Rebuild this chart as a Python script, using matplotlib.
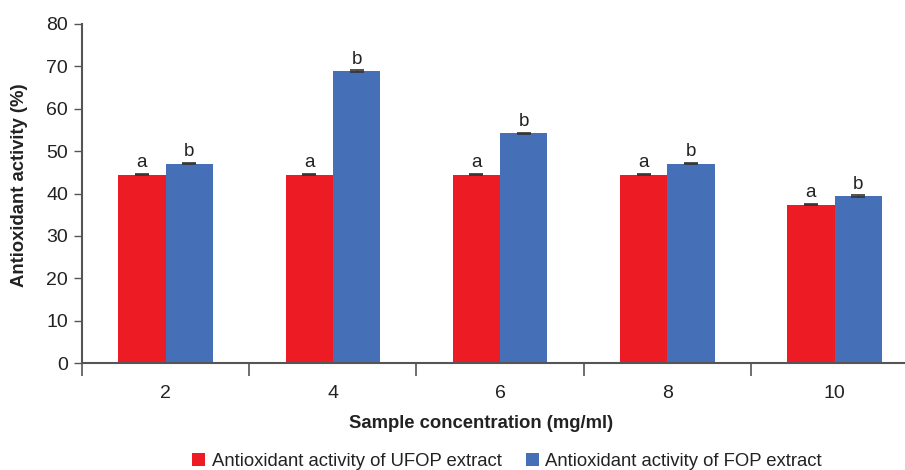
import matplotlib
matplotlib.use("Agg")
import matplotlib.pyplot as plt
from matplotlib.patches import Patch
import numpy as np

plt.rcParams['font.family'] = ['Liberation Sans', 'DejaVu Sans']

categories = ["2", "4", "6", "8", "10"]
ufop = [44.4, 44.4, 44.4, 44.4, 37.4]
fop = [47.0, 68.9, 54.2, 47.0, 39.4]
ufop_err = [0.15, 0.15, 0.15, 0.15, 0.15]
fop_err = [0.15, 0.15, 0.15, 0.15, 0.15]
ufop_letters = ["a", "a", "a", "a", "a"]
fop_letters = ["b", "b", "b", "b", "b"]
series_names = ["Antioxidant activity of UFOP extract", "Antioxidant activity of FOP extract"]
yticks = [0, 10, 20, 30, 40, 50, 60, 70, 80]

red = "#ED1C24"
blue = "#4570B8"
axis_col = "#555555"
text_col = "#222222"

W, H = 905, 470
fig = plt.figure(figsize=(W / 100, H / 100), dpi=100)
ax = fig.add_axes([82 / W, 1 - 363 / H, (904 - 82) / W, (363 - 24) / H])

x = np.arange(len(categories))
w = 0.283
ax.bar(x - w / 2, ufop, w, color=red, edgecolor="none")
ax.bar(x + w / 2, fop, w, color=blue, edgecolor="none")
ax.errorbar(x - w / 2, ufop, yerr=ufop_err, fmt="none", ecolor="#333333", capsize=5, elinewidth=0.8, capthick=1.2)
ax.errorbar(x + w / 2, fop, yerr=fop_err, fmt="none", ecolor="#333333", capsize=5, elinewidth=0.8, capthick=1.2)

for xi, v, lab in zip(x - w / 2, ufop, ufop_letters):
    ax.text(xi, v + 0.8, lab, ha="center", va="bottom", fontsize=13.5, color=text_col)
for xi, v, lab in zip(x + w / 2, fop, fop_letters):
    ax.text(xi, v + 0.8, lab, ha="center", va="bottom", fontsize=13.5, color=text_col)

ax.set_xlim(-0.5, 4.415)
ax.set_ylim(0, 80)
ax.set_yticks(yticks)
ax.set_yticklabels([str(t) for t in yticks], fontsize=14, color=text_col)

# category labels at centers, ticks at boundaries
ax.set_xticks(np.arange(-0.5, 4.5, 1.0))
ax.set_xticklabels([])
ax.set_xticks(x, minor=True)
ax.set_xticklabels(categories, minor=True, fontsize=14, color=text_col)
ax.tick_params(axis="x", which="minor", length=0, pad=16)
ax.tick_params(axis="x", which="major", length=9, width=1.2, color=axis_col, direction="out")
ax.tick_params(axis="y", length=6, width=1.0, color=axis_col, direction="out", pad=4)

for s in ["top", "right"]:
    ax.spines[s].set_visible(False)
for s in ["left", "bottom"]:
    ax.spines[s].set_color(axis_col)
    ax.spines[s].set_linewidth(1.5)

fig.text(20 / W, 1 - 185 / H, "Antioxidant activity (%)", rotation=90, ha="center", va="center",
         fontsize=13.3, fontweight="bold", color=text_col)
fig.text(481 / W, 1 - 423 / H, "Sample concentration (mg/ml)", ha="center", va="center",
         fontsize=13.3, fontweight="bold", color=text_col)

handles = [Patch(facecolor=red, edgecolor="none"), Patch(facecolor=blue, edgecolor="none")]
fig.legend(handles, series_names, loc="center", bbox_to_anchor=(507 / W, 1 - 461 / H), ncol=2,
           frameon=False, fontsize=13.3, handlelength=0.7, handleheight=0.7, handletextpad=0.35,
           columnspacing=1.3, labelcolor=text_col, borderpad=0, borderaxespad=0)

fig.savefig("out.png", dpi=100)
